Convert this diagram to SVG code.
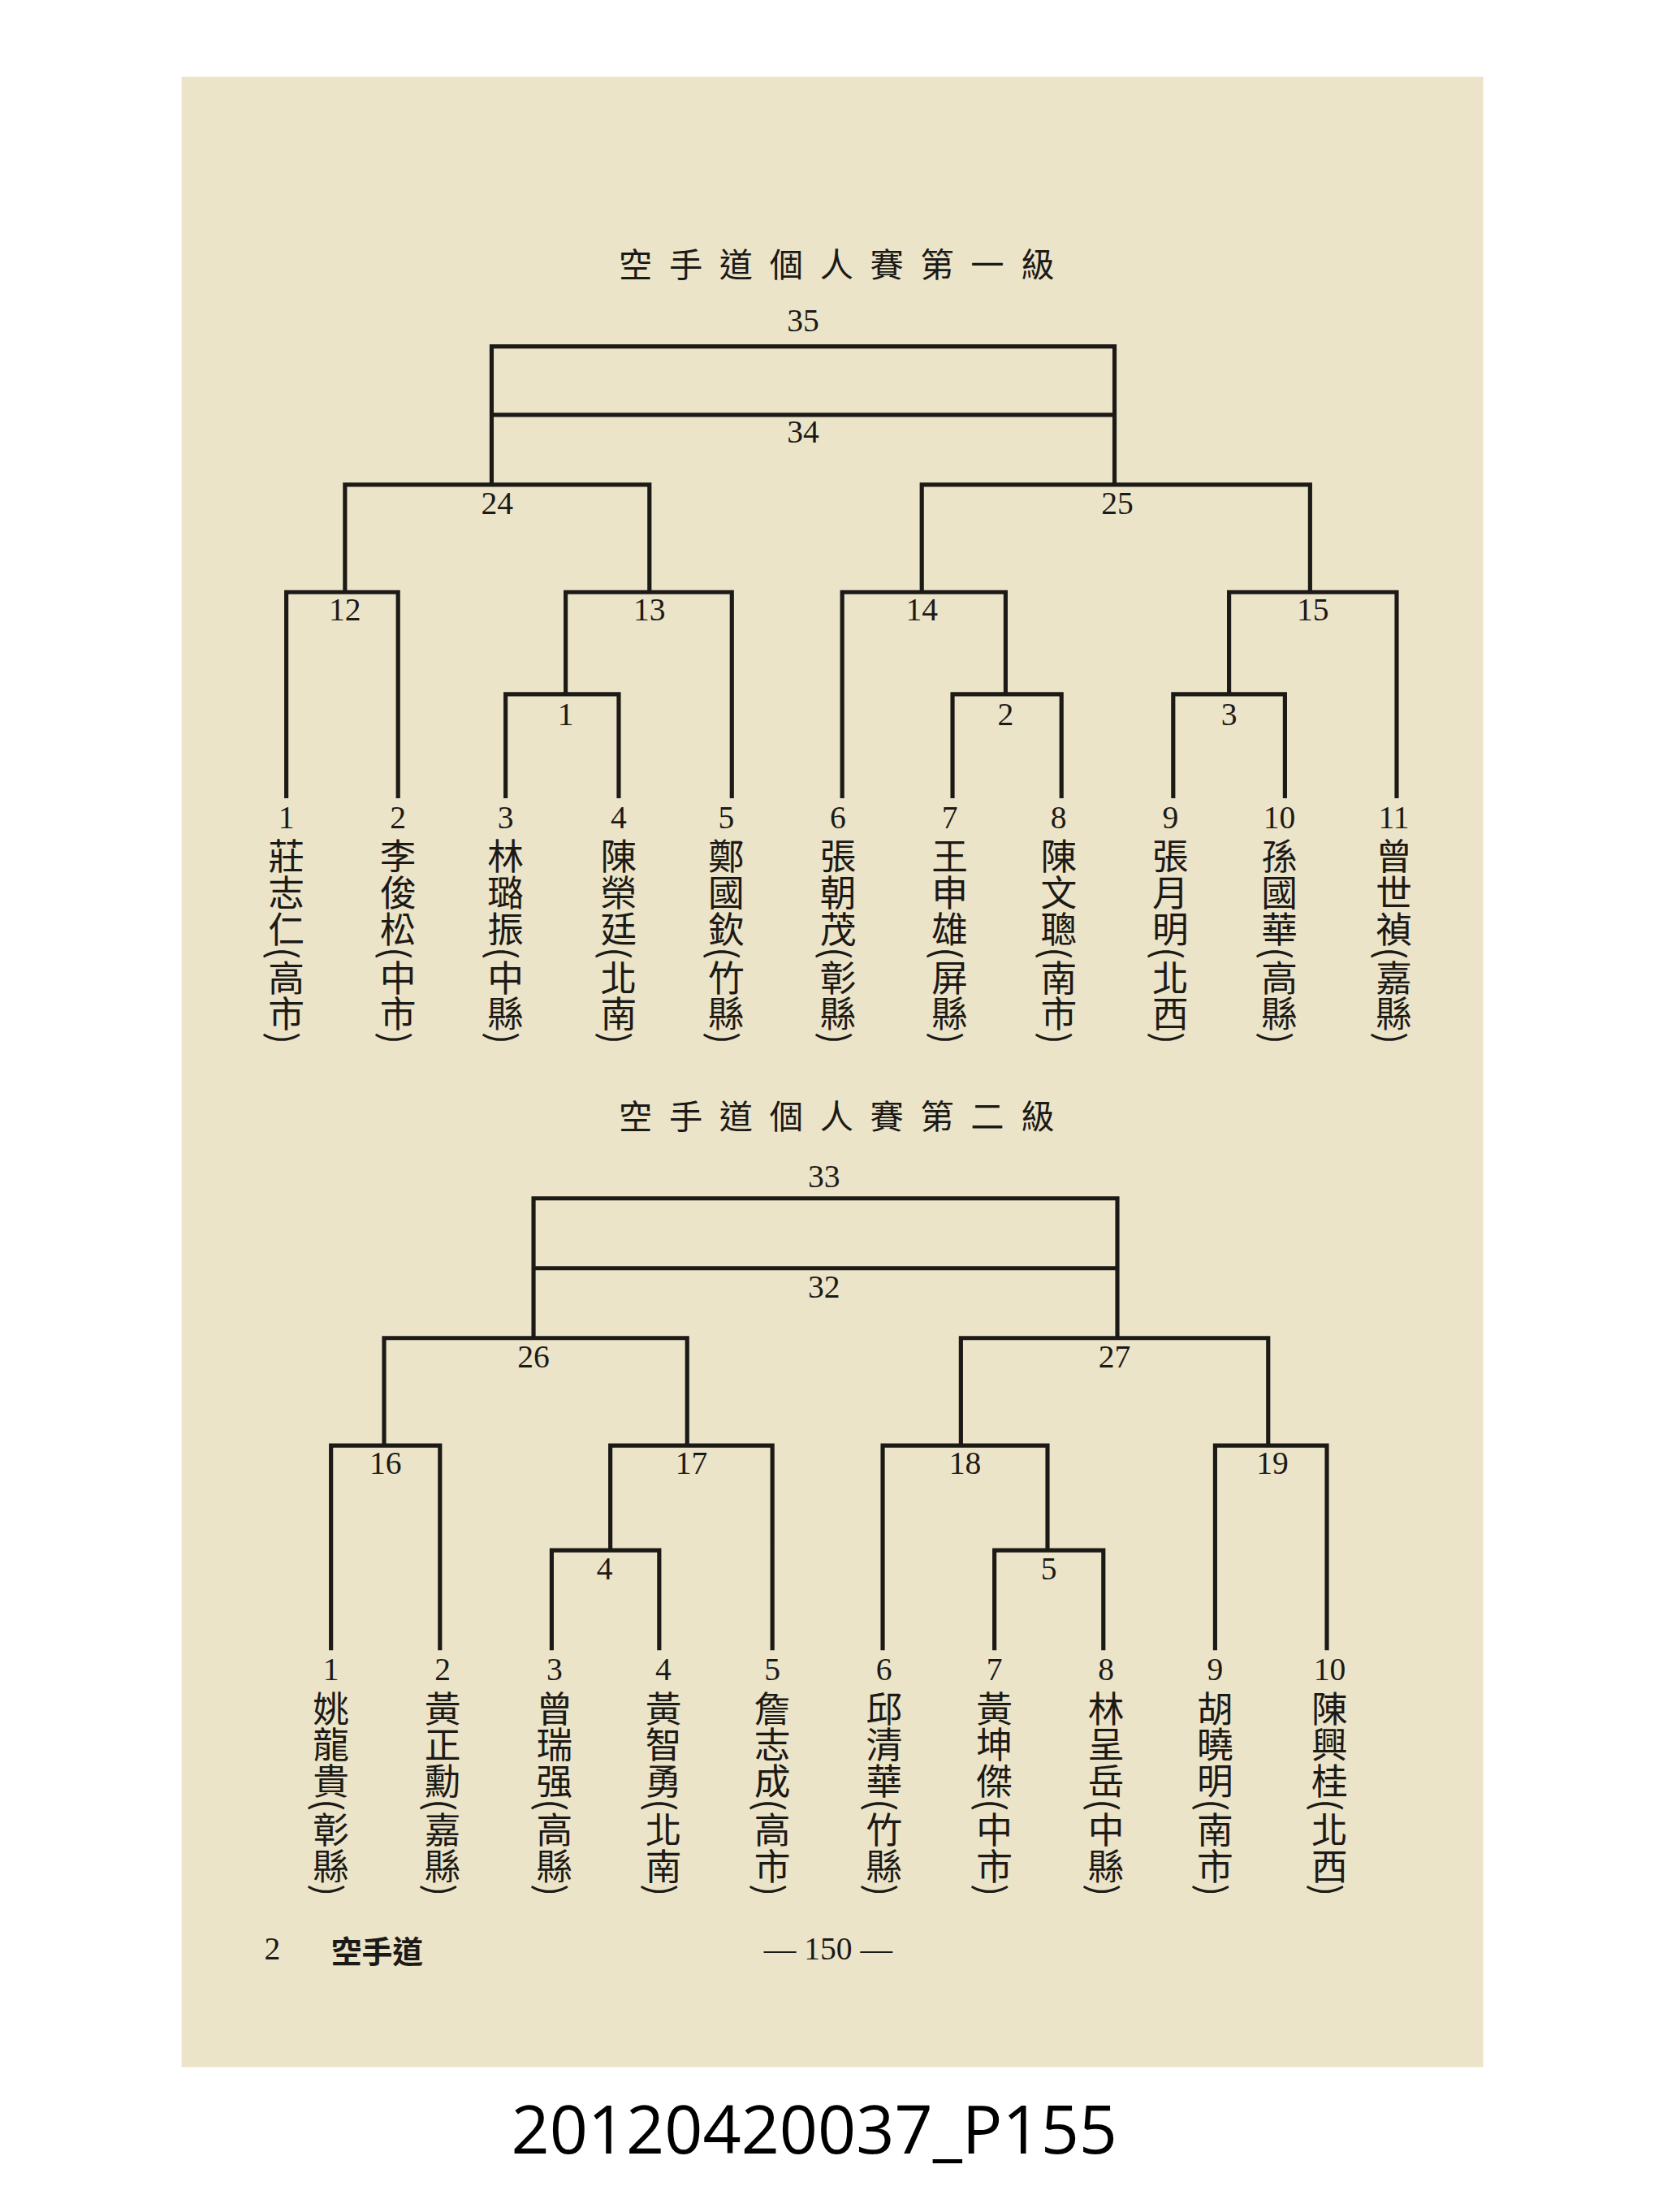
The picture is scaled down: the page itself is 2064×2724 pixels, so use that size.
<svg xmlns="http://www.w3.org/2000/svg" width="2064" height="2724" viewBox="0 0 2064 2724">
<style>
.l{stroke:#1c1a16;stroke-width:3;fill:none;stroke-linecap:square}
.n{font-family:"Liberation Serif",serif;font-size:23px;fill:#1c1a16;text-anchor:middle}
.v{font-family:"Noto Sans CJK TC","Noto Serif CJK TC",serif;font-size:26px;fill:#1c1a16;writing-mode:vertical-rl}
.t{font-family:"Noto Sans CJK TC",serif;font-size:24px;fill:#1c1a16;text-anchor:middle;letter-spacing:12px}
</style>
<rect width="2064" height="2724" fill="#fff"/>
<g transform="scale(1.72)">
<rect x="130" y="55" width="932" height="1425" fill="#ece4c9"/>
<text class="t" x="605" y="198">空手道個人賽第一級</text>
<text class="t" x="605" y="808">空手道個人賽第二級</text>
<g id="connectors">
<path class="l" d="M352 248H798M352 297H798M352 248V347M798 248V347
M247 347H465M660 347H938
M205 424H285M247 347V424M205 424V570M285 424V570
M405 424H524M465 347V424M405 424V497M362 497H443M362 497V570M443 497V570M524 424V570
M603 424H720M660 347V424M603 424V570M720 424V497M682 497H760M682 497V570M760 497V570
M880 424H1000M938 347V424M880 424V497M840 497H920M840 497V570M920 497V570M1000 424V570"/>
<path class="l" d="M382 858H800M382 908H800M382 858V958M800 858V958
M275 958H492M688 958H908
M237 1035H315M275 958V1035M237 1035V1180M315 1035V1180
M437 1035H553M492 958V1035M437 1035V1110M395 1110H472M395 1110V1180M472 1110V1180M553 1035V1180
M632 1035H750M688 958V1035M632 1035V1180M750 1035V1110M712 1110H790M712 1110V1180M790 1110V1180
M870 1035H950M908 958V1035M870 1035V1180M950 1035V1180"/>
</g>
<g id="labels1" class="n">
<text x="575" y="237">35</text><text x="575" y="317">34</text>
<text x="356" y="368">24</text><text x="800" y="368">25</text>
<text x="247" y="444">12</text><text x="465" y="444">13</text><text x="660" y="444">14</text><text x="940" y="444">15</text>
<text x="405" y="519">1</text><text x="720" y="519">2</text><text x="880" y="519">3</text>
</g>
<g id="labels2" class="n">
<text x="590" y="850">33</text><text x="590" y="929">32</text>
<text x="382" y="979">26</text><text x="798" y="979">27</text>
<text x="276" y="1055">16</text><text x="495" y="1055">17</text><text x="691" y="1055">18</text><text x="911" y="1055">19</text>
<text x="433" y="1131">4</text><text x="751" y="1131">5</text>
</g>
<g id="leaves1">
<g id="a1"><text class="n" x="205" y="593">1</text><text class="v" x="205" y="600">莊志仁(高市)</text></g>
<g id="a2"><text class="n" x="285" y="593">2</text><text class="v" x="285" y="600">李俊松(中市)</text></g>
<g id="a3"><text class="n" x="362" y="593">3</text><text class="v" x="362" y="600">林璐振(中縣)</text></g>
<g id="a4"><text class="n" x="443" y="593">4</text><text class="v" x="443" y="600">陳榮廷(北南)</text></g>
<g id="a5"><text class="n" x="520" y="593">5</text><text class="v" x="520" y="600">鄭國欽(竹縣)</text></g>
<g id="a6"><text class="n" x="600" y="593">6</text><text class="v" x="600" y="600">張朝茂(彰縣)</text></g>
<g id="a7"><text class="n" x="680" y="593">7</text><text class="v" x="680" y="600">王申雄(屏縣)</text></g>
<g id="a8"><text class="n" x="758" y="593">8</text><text class="v" x="758" y="600">陳文聰(南市)</text></g>
<g id="a9"><text class="n" x="838" y="593">9</text><text class="v" x="838" y="600">張月明(北西)</text></g>
<g id="a10"><text class="n" x="916" y="593">10</text><text class="v" x="916" y="600">孫國華(高縣)</text></g>
<g id="a11"><text class="n" x="998" y="593">11</text><text class="v" x="998" y="600">曾世禎(嘉縣)</text></g>
</g>
<g id="leaves2">
<g id="b1"><text class="n" x="237" y="1203">1</text><text class="v" x="237" y="1210">姚龍貴(彰縣)</text></g>
<g id="b2"><text class="n" x="317" y="1203">2</text><text class="v" x="317" y="1210">黃正勳(嘉縣)</text></g>
<g id="b3"><text class="n" x="397" y="1203">3</text><text class="v" x="397" y="1210">曾瑞强(高縣)</text></g>
<g id="b4"><text class="n" x="475" y="1203">4</text><text class="v" x="475" y="1210">黃智勇(北南)</text></g>
<g id="b5"><text class="n" x="553" y="1203">5</text><text class="v" x="553" y="1210">詹志成(高市)</text></g>
<g id="b6"><text class="n" x="633" y="1203">6</text><text class="v" x="633" y="1210">邱清華(竹縣)</text></g>
<g id="b7"><text class="n" x="712" y="1203">7</text><text class="v" x="712" y="1210">黃坤傑(中市)</text></g>
<g id="b8"><text class="n" x="792" y="1203">8</text><text class="v" x="792" y="1210">林呈岳(中縣)</text></g>
<g id="b9"><text class="n" x="870" y="1203">9</text><text class="v" x="870" y="1210">胡曉明(南市)</text></g>
<g id="b10"><text class="n" x="952" y="1203">10</text><text class="v" x="952" y="1210">陳興桂(北西)</text></g>
</g>
<text class="n" x="195" y="1403">2</text>
<text x="270" y="1405" style="font-family:'Noto Sans CJK TC',serif;font-size:22px;fill:#1c1a16;text-anchor:middle;font-weight:bold">空手道</text>
<text class="n" x="593" y="1403">— 150 —</text>
<text x="583" y="1542" style="font-family:'Open Sans','Liberation Sans',sans-serif;font-size:48px;fill:#000;text-anchor:middle">20120420037_P155</text>
</g>
</svg>
